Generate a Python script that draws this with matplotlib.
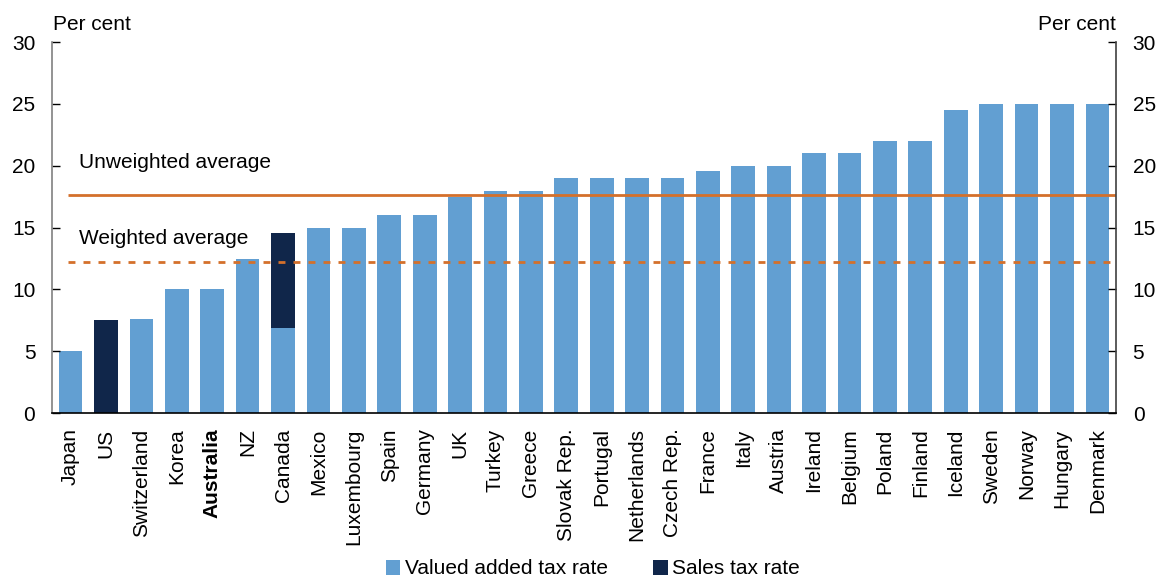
"""
OECD consumption tax rates chart
"""

import matplotlib.pyplot as plt
from matplotlib.patches import Patch
import numpy as np

plt.rcParams["font.family"] = ["Liberation Sans", "DejaVu Sans"]

# data
countries = [
    "Japan", "US", "Switzerland", "Korea", "Australia", "NZ", "Canada", "Mexico",
    "Luxembourg", "Spain", "Germany", "UK", "Turkey", "Greece", "Slovak Rep.",
    "Portugal", "Netherlands", "Czech Rep.", "France", "Italy", "Austria",
    "Ireland", "Belgium", "Poland", "Finland", "Iceland", "Sweden", "Norway",
    "Hungary", "Denmark",
]
vat_rate = [
    5, 0, 7.6, 10, 10, 12.5, 6.9, 15, 15, 16, 16, 17.5, 18, 18, 19,
    19, 19, 19, 19.6, 20, 20, 21, 21, 22, 22, 24.5, 25, 25, 25, 25,
]
sales_tax_rate = [
    0, 7.5, 0, 0, 0, 0, 7.7, 0, 0, 0, 0, 0, 0, 0, 0,
    0, 0, 0, 0, 0, 0, 0, 0, 0, 0, 0, 0, 0, 0, 0,
]
unweighted_avg = 17.6
weighted_avg = 12.2

VAT_COLOR = "#629fd2"
SALES_COLOR = "#10264a"
AVG_COLOR = "#d4702b"

fig = plt.figure(figsize=(11.58, 5.77), dpi=100)
ax = fig.add_axes([0.0449, 0.284, 0.9188, 0.643])

x = np.arange(len(countries))
ax.bar(x, vat_rate, width=0.67, color=VAT_COLOR, linewidth=0)
ax.bar(x, sales_tax_rate, width=0.67, bottom=vat_rate, color=SALES_COLOR, linewidth=0)

# average lines
ax.plot([-0.06, 30.03], [unweighted_avg] * 2, color=AVG_COLOR, lw=2,
        solid_capstyle="butt")
ax.plot([-0.06, 29.8], [weighted_avg] * 2, color=AVG_COLOR, lw=2,
        linestyle=(0, (2.5, 2.9)), dash_capstyle="butt")
ax.text(0.23, 20.3, "Unweighted average", fontsize=15, va="center", ha="left")
ax.text(0.23, 14.1, "Weighted average", fontsize=15, va="center", ha="left")

ax.set_xlim(-0.525, len(countries) - 0.475)
ax.set_ylim(0, 30)
ax.set_yticks(range(0, 31, 5))
ax.set_xticks(x)
ax.set_xticklabels(countries, rotation=90, fontsize=15)
for lbl in ax.get_xticklabels():
    if lbl.get_text() == "Australia":
        lbl.set_fontweight("bold")

ax.tick_params(axis="x", length=0, pad=11)
ax.tick_params(axis="y", direction="in", length=6, width=1, labelsize=15,
               pad=12, colors="black", right=True, labelright=True)

ax.spines["top"].set_visible(False)
ax.spines["left"].set_color("#808080")
ax.spines["right"].set_color("#404040")
ax.spines["bottom"].set_color("black")
for s in ("left", "right", "bottom"):
    ax.spines[s].set_linewidth(1.2)

fig.text(53 / 1158, 1 - 24 / 577, "Per cent", fontsize=15, ha="left", va="center")
fig.text(1116 / 1158, 1 - 24 / 577, "Per cent", fontsize=15, ha="right", va="center")

handles = [
    Patch(facecolor=VAT_COLOR, label="Valued added tax rate"),
    Patch(facecolor=SALES_COLOR, label="Sales tax rate"),
]
fig.legend(handles=handles, loc="center", bbox_to_anchor=(0.512, 1 - 569 / 577),
           ncol=2, frameon=False, fontsize=15, handlelength=0.7, handleheight=0.7,
           handletextpad=0.2, columnspacing=2.2, borderaxespad=0)

fig.savefig("out.png", dpi=100)
